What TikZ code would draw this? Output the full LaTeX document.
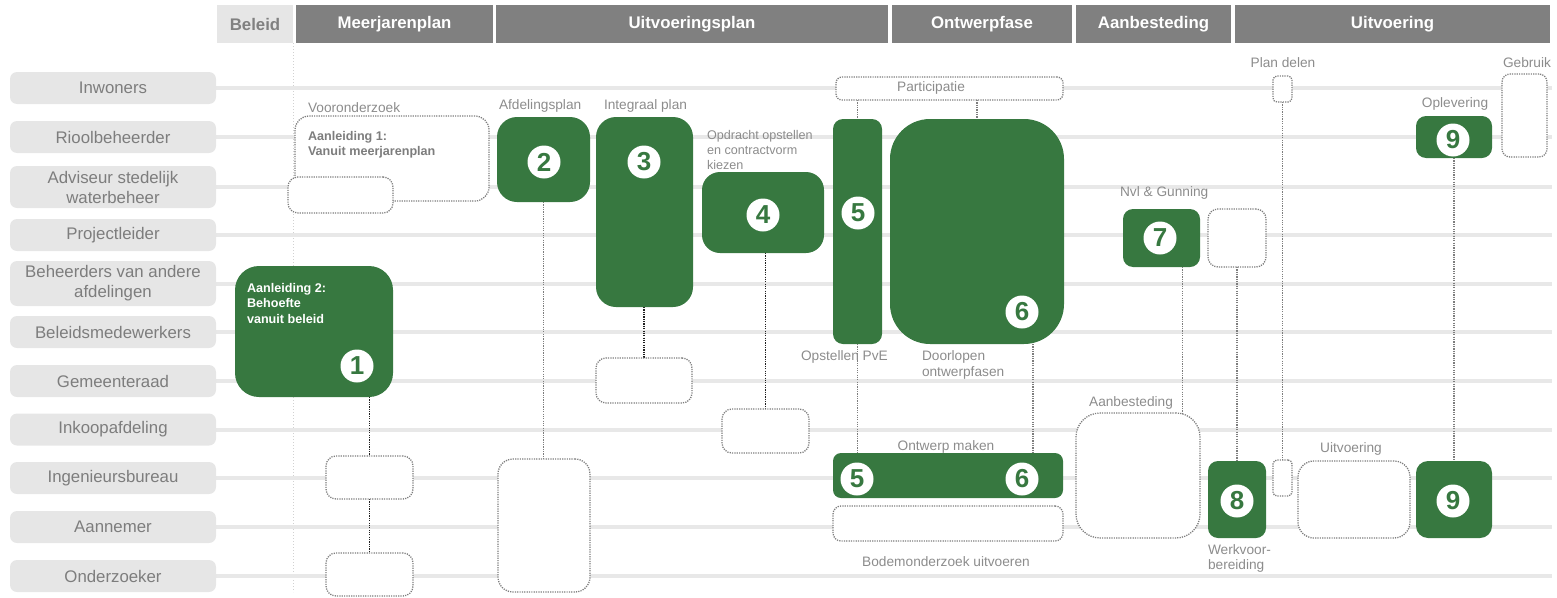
\documentclass[tikz,border=0pt]{standalone}
\usepackage{fontspec}
\setmainfont{Liberation Sans}
\definecolor{gG}{RGB}{55,120,64}
\definecolor{hdr}{RGB}{128,128,128}
\definecolor{lanegray}{RGB}{230,230,230}
\definecolor{laneline}{RGB}{232,232,232}
\definecolor{txtgray}{RGB}{125,125,125}
\definecolor{lblgray}{RGB}{140,140,140}
\definecolor{dotgray}{RGB}{125,125,125}
\definecolor{dotdark}{RGB}{30,30,30}
\pgfdeclarelayer{bg}
\pgfsetlayers{bg,main}
\newcommand\bx[7]{\node[#7, rounded corners=#6pt, minimum width=#4pt, minimum height=#5pt, anchor=north west] (#1) at (#2,#3) {};}
\begin{document}
\begin{tikzpicture}[x=1pt,y=-1pt,
  every node/.style={inner sep=0pt, outer sep=0pt},
  gbox/.style={fill=gG},
  dbox/.style={draw=dotgray, fill=white, line width=1.3pt, dash pattern=on 1.2pt off 1.15pt},
  hdark/.style={fill=hdr, text=white, font=\bfseries\fontsize{16.8}{20}\selectfont, anchor=north west},
  hlight/.style={fill=lanegray, text=hdr, font=\bfseries\fontsize{16.8}{20}\selectfont, anchor=north west},
  lanelbl/.style={fill=lanegray, rounded corners=7pt, minimum width=206pt, text=txtgray, font=\fontsize{16.8}{20}\selectfont, align=center},
  lane/.style={draw=laneline, line width=4pt},
  lbl/.style={text=lblgray, font=\fontsize{13.7}{16}\selectfont, align=left},
  blbl/.style={font=\bfseries\fontsize{12.6}{15.5}\selectfont, align=left},
  num/.style={circle, fill=white, text=gG, font=\bfseries\fontsize{26}{26}\selectfont, minimum size=33pt},
  conn/.style={draw=dotgray, line width=1.3pt, dash pattern=on 1.2pt off 1.15pt},
  conndark/.style={draw=dotdark, line width=1.3pt, dash pattern=on 1.2pt off 1.15pt},
  sep/.style={draw=lanegray!80!gray, line width=1pt, dash pattern=on 1pt off 2pt}
]
\useasboundingbox (0,0) rectangle (1557,597);
\coordinate (xend) at (1552,0);
\coordinate (sepend) at (293,592);

% headers
\node[hlight, minimum width=76pt, minimum height=38pt] (hBel) at (217,5) {};
\node[text=hdr, font=\bfseries\fontsize{16.8}{20}\selectfont] at (hBel.center) {Beleid};
\node[hdark, minimum width=197pt, minimum height=38pt] (hMeer) at (296,5) {};
\node[text=white, font=\bfseries\fontsize{16.8}{20}\selectfont] at (hMeer.center) {Meerjarenplan};
\node[hdark, minimum width=392pt, minimum height=38pt] (hUitp) at (496,5) {};
\node[text=white, font=\bfseries\fontsize{16.8}{20}\selectfont] at (hUitp.center) {Uitvoeringsplan};
\node[hdark, minimum width=180pt, minimum height=38pt] (hOntw) at (892,5) {};
\node[text=white, font=\bfseries\fontsize{16.8}{20}\selectfont] at (hOntw.center) {Ontwerpfase};
\node[hdark, minimum width=155pt, minimum height=38pt] (hAanb) at (1076,5) {};
\node[text=white, font=\bfseries\fontsize{16.8}{20}\selectfont] at (hAanb.center) {Aanbesteding};
\node[hdark, minimum width=315pt, minimum height=38pt] (hUitv) at (1235,5) {};
\node[text=white, font=\bfseries\fontsize{16.8}{20}\selectfont] at (hUitv.center) {Uitvoering};

% lane labels
\node[lanelbl, minimum height=32pt] (lInw) at (113,88) {Inwoners};
\node[lanelbl, minimum height=32pt] (lRio) at (113,137) {Rioolbeheerder};
\node[lanelbl, minimum height=42pt] (lAdv) at (113,187) {Adviseur stedelijk\\waterbeheer};
\node[lanelbl, minimum height=32pt] (lPro) at (113,235) {Projectleider};
\node[lanelbl, minimum height=45pt] (lBeh) at (113,283.5) {Beheerders van andere\\afdelingen};
\node[lanelbl, minimum height=32pt] (lBel) at (113,332) {Beleidsmedewerkers};
\node[lanelbl, minimum height=32pt] (lGem) at (113,381) {Gemeenteraad};
\node[lanelbl, minimum height=32pt] (lInk) at (113,429.5) {Inkoopafdeling};
\node[lanelbl, minimum height=32pt] (lIng) at (113,478) {Ingenieursbureau};
\node[lanelbl, minimum height=32pt] (lAan) at (113,527) {Aannemer};
\node[lanelbl, minimum height=32pt] (lOnd) at (113,576) {Onderzoeker};

% boxes
\bx{b1}{235}{266}{158}{131}{24}{gbox}
\bx{vo}{295}{116}{194}{85}{14}{dbox}
\bx{vo2}{288}{177}{105}{36}{10}{dbox}
\bx{d1a}{326}{456}{87}{43}{10}{dbox}
\bx{d1b}{326}{553}{87}{43}{10}{dbox}
\bx{b2}{497}{117}{93}{85}{20}{gbox}
\bx{d2}{498}{459}{92}{133}{15}{dbox}
\bx{b3}{596}{117}{97}{190}{20}{gbox}
\bx{d3}{596}{358}{96}{45}{10}{dbox}
\bx{b4}{702}{172}{122}{81}{18}{gbox}
\bx{d4}{722}{409}{87}{44}{10}{dbox}
\bx{part}{836}{77}{227}{23}{6}{dbox}
\bx{b5}{833}{119}{49}{225}{10}{gbox}
\bx{b6}{890}{119}{174}{225}{40}{gbox}
\bx{om}{833}{453}{230}{45}{8}{gbox}
\bx{bo}{833}{506}{230}{35}{8}{dbox}
\bx{b7}{1123}{209}{77}{58}{10}{gbox}
\bx{d7}{1208}{209}{58}{58}{10}{dbox}
\bx{ab}{1076}{413}{124}{125}{24}{dbox}
\bx{b8}{1208}{461}{58}{77}{10}{gbox}
\bx{pd}{1273}{76}{19}{26}{4}{dbox}
\bx{pd2}{1273}{460}{19}{36}{4}{dbox}
\bx{uv}{1298}{461}{112}{77}{16}{dbox}
\bx{b9a}{1416}{116}{76}{42}{10}{gbox}
\bx{b9b}{1416}{461}{76}{77}{12}{gbox}
\bx{gb}{1502}{74}{45}{83}{8}{dbox}

% numbers
\node[num] (n1) at (357,366) {1};
\node[num] (n2) at (544,162) {2};
\node[num] (n3) at (644,162) {3};
\node[num] (n4) at (763,215) {4};
\node[num] (n5) at (858,213) {5};
\node[num] (n6) at (1022,312) {6};
\node[num] (n5b) at (857,479) {5};
\node[num] (n6b) at (1022,479) {6};
\node[num] (n7) at (1160,238) {7};
\node[num] (n8) at (1237,501) {8};
\node[num] (n9) at (1453,140) {9};
\node[num] (n9b) at (1453,501) {9};

% texts
\node[blbl, text=white, anchor=west] (t1) at (247,303) {Aanleiding 2:\\Behoefte\\vanuit beleid};
\node[blbl, text=txtgray, anchor=west] (tvo) at (308,144.5) {Aanleiding 1:\\Vanuit meerjarenplan};
\node[lbl, anchor=west] (lvo) at (308,108) {Vooronderzoek};
\node[lbl, anchor=west] (lafd) at (499,106) {Afdelingsplan};
\node[lbl, anchor=west] (lint) at (604,106) {Integraal plan};
\node[lbl, anchor=west, font=\fontsize{12.6}{15}\selectfont] (lopd) at (707,150) {Opdracht opstellen\\en contractvorm\\kiezen};
\node[lbl] (lpart) at (931,88) {Participatie};
\node[lbl, anchor=west] (lpve) at (801,357) {Opstellen PvE};
\node[lbl, anchor=west] (ldoor) at (922,365) {Doorlopen\\ontwerpfasen};
\node[lbl, anchor=west] (lnvl) at (1120,193) {Nvl \& Gunning};
\node[lbl] (lpd) at (1283,63) {Plan delen};
\node[lbl, anchor=west] (lgeb) at (1503,63) {Gebruik};
\node[lbl] (lopl) at (1455,104) {Oplevering};
\node[lbl] (lab) at (1131,403) {Aanbesteding};
\node[lbl] (luv) at (1351,449) {Uitvoering};
\node[lbl, anchor=west, font=\fontsize{13.7}{15}\selectfont] (lwv) at (1208,558.5) {Werkvoor-\\bereiding};
\node[lbl] (lom) at (946,447) {Ontwerp maken};
\node[lbl] (lbo) at (946,562) {Bodemonderzoek uitvoeren};

\begin{pgfonlayer}{bg}
  \draw[sep] (hBel.south east) -- (sepend);
  \foreach \n in {lInw,lRio,lAdv,lPro,lBeh,lBel,lGem,lInk,lIng,lAan,lOnd}
    \draw[lane] (\n.east) -- (\n.east -| xend);
  \draw[conndark] (d1a.north |- b1.south) -- (d1a.north);
  \draw[conndark] (d1a.south) -- (d1b.north);
  \draw[conn] (b2.south) -- (b2.south |- d2.north);
  \draw[conndark] (d3.north |- b3.south) -- (d3.north);
  \draw[conndark] (d4.north |- b4.south) -- (d4.north);
  \draw[conn] (b5.north |- part.south) -- (b5.north);
  \draw[conn] (b6.north |- part.south) -- (b6.north);
  \draw[conn] (b5.south) -- (b5.south |- om.north);
  \draw[conn] ([xshift=56pt]b6.south) -- ([xshift=56pt]b6.south |- om.north);
  \draw[conn] ([xshift=21pt]b7.south) -- ([xshift=21pt]b7.south |- ab.north);
  \draw[conn] (d7.south) -- (b8.north);
  \draw[conn] (pd.south) -- (pd2.north);
  \draw[conn] (b9a.south) -- (b9b.north);
\end{pgfonlayer}
\end{tikzpicture}
\end{document}
